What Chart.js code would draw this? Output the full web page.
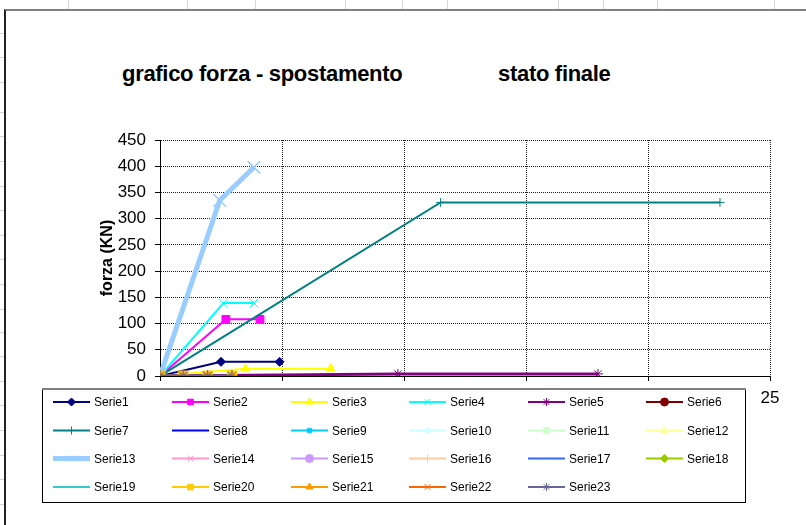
<!DOCTYPE html>
<html>
<head>
<meta charset="utf-8">
<title>grafico forza - spostamento</title>
<script src="https://cdn.jsdelivr.net/npm/chart.js@4/dist/chart.umd.min.js"></script>
<style>
    body { margin: 0; background: #fff; font-family: "Liberation Sans", Arial, sans-serif; }
    #sheet { position: relative; width: 806px; height: 525px; overflow: hidden; background: #fff; }
    .col { position: absolute; top: 0; width: 1px; height: 9px; background: #d6d6d6; }
    .row { position: absolute; left: 0; width: 4px; height: 1px; background: #d6d6d6; }
    #frame { position: absolute; left: 4px; top: 9px; width: 820px; height: 530px;
             border-left: 2px solid #222; border-top: 2px solid #808080; }
    #chart { position: absolute; left: 0; top: 0; }
    .title { position: absolute; top: 61px; font-weight: bold; font-size: 22px; color: #000;
             white-space: nowrap; letter-spacing: -0.3px; }
</style>
</head>
<body>
<div id="sheet">
    <div id="frame"></div>
    <div class="title" style="left:122px">grafico forza - spostamento</div>
    <div class="title" style="left:498px">stato finale</div>
    <canvas id="chart" width="806" height="525"></canvas>
</div>

<script>
// Scale settings
const X_MAX = 25, X_STEP = 5;
const Y_MAX = 450, Y_STEP = 50;

// Series labels
const seriesNames = [
    'Serie1', 'Serie2', 'Serie3', 'Serie4', 'Serie5', 'Serie6',
    'Serie7', 'Serie8', 'Serie9', 'Serie10', 'Serie11', 'Serie12',
    'Serie13', 'Serie14', 'Serie15', 'Serie16', 'Serie17', 'Serie18',
    'Serie19', 'Serie20', 'Serie21', 'Serie22', 'Serie23'
];

// Displacement / force values per series
const serie1X = [0, 2.5, 4.9];
const serie1Y = [0, 27, 27];
const serie2X = [0, 2.7, 4.1];
const serie2Y = [0, 108, 108];
const serie3X = [0, 3.5, 7.0];
const serie3Y = [0, 14, 14];
const serie4X = [0, 2.6, 3.85];
const serie4Y = [0, 139, 139];
const serie5X = [0, 9.75, 17.95];
const serie5Y = [0, 4, 4];
const serie7X = [0, 11.5, 22.95];
const serie7Y = [0, 331, 331];
const serie13X = [0, 2.45, 3.85];
const serie13Y = [0, 335, 398];
const baseX = [0, 0.95, 1.95, 2.95];   // Serie20..23
const baseY = [0, 0, 0, 0];
const originX = [0];
const originY = [0];

const seriesX = [
    serie1X, serie2X, serie3X, serie4X, serie5X, originX,
    serie7X, originX, originX, originX, originX, originX,
    serie13X, originX, originX, originX, originX, originX,
    originX, baseX, baseX, baseX, baseX
];
const seriesY = [
    serie1Y, serie2Y, serie3Y, serie4Y, serie5Y, originY,
    serie7Y, originY, originY, originY, originY, originY,
    serie13Y, originY, originY, originY, originY, originY,
    originY, baseY, baseY, baseY, baseY
];

// Default spreadsheet palette and marker cycle
const seriesColors = [
    '#000080', '#FF00FF', '#FFFF00', '#00FFFF', '#800080', '#800000',
    '#008080', '#0000FF', '#00CCFF', '#CCFFFF', '#CCFFCC', '#FFFF99',
    '#99CCFF', '#FF99CC', '#CC99FF', '#FFCC99', '#3366FF', '#99CC00',
    '#33CCCC', '#FFCC00', '#FF9900', '#FF6600', '#666699'
];
const seriesMarkers = [
    'rectRot', 'rect', 'triangle', 'crossRot', 'star', 'circle',
    'cross', 'dash', 'rect', 'rectRot', 'rect', 'triangle',
    'crossRot', 'crossRot', 'circle', 'cross', 'dash', 'rectRot',
    'dash', 'rect', 'triangle', 'crossRot', 'star'
];
const markerRadius = [
    4.5, 5.5, 5, 6, 5, 4,
    4.5, 3, 3, 3, 4, 4,
    9, 4, 4, 4, 3, 4,
    3, 7, 5.5, 6, 6
];
const lineWidths = [
    2, 2, 2, 2, 3, 2,
    2, 2, 2, 2, 2, 2,
    5, 2, 2, 2, 2, 2,
    2, 2, 2, 2, 3
];

const datasets = seriesNames.map((name, i) => ({
    label: name,
    data: seriesX[i].map((x, j) => ({ x: x, y: seriesY[i][j] })),
    showLine: true,
    borderColor: seriesColors[i],
    backgroundColor: seriesColors[i],
    borderWidth: lineWidths[i],
    pointStyle: seriesMarkers[i],
    pointRadius: markerRadius[i],
    pointBorderWidth: i === 12 ? 1.5 : 1,
    pointHoverRadius: markerRadius[i],
    tension: 0,
    order: -i
}));

// Legend box laid out in a 6 column grid
const LEGEND_BOX = { left: 42, top: 388, right: 745, bottom: 502 };
const LEGEND_COL_X = [53, 172, 291, 409, 528, 646];
const LEGEND_ROW_Y = [402, 430.5, 458.5, 487];

const gridLegend = {
    id: 'gridLegend',
    afterDraw(chart) {
        const ctx = chart.ctx;
        const b = LEGEND_BOX;
        ctx.save();
        ctx.fillStyle = '#fff';
        ctx.fillRect(b.left, b.top, b.right - b.left, b.bottom - b.top);
        ctx.strokeStyle = '#000';
        ctx.lineWidth = 1;
        ctx.strokeRect(b.left + 0.5, b.top + 0.5, b.right - b.left, b.bottom - b.top);
        ctx.strokeStyle = '#808080';
        ctx.lineWidth = 2;
        ctx.beginPath();
        ctx.moveTo(b.left, b.top + 1);
        ctx.lineTo(b.right + 1, b.top + 1);
        ctx.stroke();

        chart.data.datasets.forEach((ds, i) => {
            const x = LEGEND_COL_X[i % 6];
            const y = LEGEND_ROW_Y[Math.floor(i / 6)];
            ctx.strokeStyle = ds.borderColor;
            ctx.fillStyle = ds.backgroundColor;
            ctx.lineWidth = ds.borderWidth === 5 ? 5 : 2;
            ctx.lineCap = 'butt';
            ctx.beginPath();
            ctx.moveTo(x, y);
            ctx.lineTo(x + 37, y);
            ctx.stroke();
            if (Chart.helpers && Chart.helpers.drawPoint) {
                ctx.lineWidth = 1;
                Chart.helpers.drawPoint(ctx, {
                    pointStyle: ds.pointStyle,
                    radius: Math.min(ds.pointRadius, 4),
                    borderWidth: 1,
                    rotation: 0
                }, x + 18.5, y);
            }
            ctx.fillStyle = '#000';
            ctx.font = '12px "Liberation Sans", Arial, sans-serif';
            ctx.textBaseline = 'middle';
            ctx.textAlign = 'left';
            ctx.fillText(ds.label, x + 41, y + 1);
        });
        ctx.restore();
    }
};

const axisFont = { family: '"Liberation Sans", Arial, sans-serif', size: 17 };

new Chart(document.getElementById('chart'), {
    type: 'scatter',
    data: { datasets: datasets },
    plugins: [gridLegend],
    options: {
        responsive: false,
        animation: false,
        events: [],
        layout: { padding: { left: 100, top: 140, right: 36, bottom: 105 } },
        plugins: {
            legend: { display: false },
            tooltip: { enabled: false }
        },
        scales: {
            x: {
                type: 'linear',
                min: 0,
                max: X_MAX,
                ticks: { stepSize: X_STEP, color: '#000', font: axisFont, padding: 7, maxRotation: 0 },
                grid: { color: '#222', tickColor: '#000', tickLength: 5, lineWidth: 1 },
                border: { color: '#000', width: 1, dash: [1, 1] },
                afterFit(scale) { scale.height = 44; }
            },
            y: {
                type: 'linear',
                min: 0,
                max: Y_MAX,
                ticks: { stepSize: Y_STEP, color: '#000', font: axisFont, padding: 9 },
                grid: { color: '#222', tickColor: '#000', tickLength: 5, lineWidth: 1 },
                border: { color: '#000', width: 1, dash: [1, 1] },
                title: {
                    display: true,
                    text: 'forza (KN)',
                    color: '#000',
                    font: { family: '"Liberation Sans", Arial, sans-serif', size: 16, weight: 'bold', lineHeight: 1 },
                    padding: { top: 0, bottom: 0 }
                },
                afterFit(scale) { scale.width = 60; }
            }
        }
    }
});

// Spreadsheet cell borders around the chart object
const sheet = document.getElementById('sheet');
[68, 187, 255, 345, 402, 447, 558, 603, 657, 774].forEach(x => {
    const d = document.createElement('div');
    d.className = 'col';
    d.style.left = x + 'px';
    sheet.insertBefore(d, sheet.firstChild);
});
[33, 57, 82, 112, 136, 161, 186, 210, 235, 259, 284, 309, 332, 356, 381, 405, 430, 455, 479, 504].forEach(y => {
    const d = document.createElement('div');
    d.className = 'row';
    d.style.top = y + 'px';
    sheet.insertBefore(d, sheet.firstChild);
});
</script>
</body>
</html>
